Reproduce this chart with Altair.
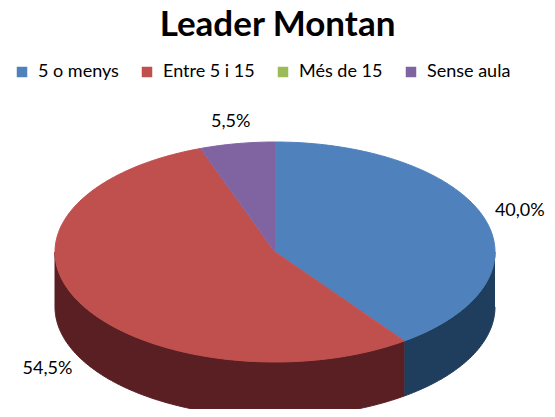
import numpy as np
import pandas as pd
import altair as alt

# ---- data ----
categories = ["5 o menys", "Entre 5 i 15", "Més de 15", "Sense aula"]
values = [40.0, 54.5, 0.0, 5.5]
top_colors = ["#4F81BD", "#C0504D", "#9BBB59", "#8064A2"]
side_colors = ["#1F3D5C", "#5A1F23", "#3E4F22", "#33284A"]
title_text = "Leader Montan"

# ---- layout constants (pixels of the plot area) ----
W, H, PT = 539, 301, 100
CX, CY, RX, RY, DEPTH = 267, 144, 220, 110, 55


def ell(theta_deg, dy=0.0):
    t = np.radians(theta_deg)
    return CX + RX * np.sin(t), CY - RY * np.cos(t) + dy


top_rows, side_rows, label_rows = [], [], []
start = 0.0
for cat, v in zip(categories, values):
    a1, a2 = start, start + v / 100.0 * 360.0
    start = a2
    if v <= 0:
        continue
    n = max(2, int(a2 - a1) + 1)
    angs = np.linspace(a1, a2, n)
    top_rows.append({"cat": cat, "i": 0, "x": CX, "y": CY})
    for k, a in enumerate(angs):
        x, y = ell(a)
        top_rows.append({"cat": cat, "i": k + 1, "x": x, "y": y})
    lo, hi = max(a1, 90.0), min(a2, 270.0)
    if lo < hi:
        m = max(2, int(hi - lo) + 1)
        sa = np.linspace(lo, hi, m)
        k = 0
        for a in sa:
            x, y = ell(a)
            side_rows.append({"piece": cat, "i": k, "x": x, "y": y}); k += 1
        for a in sa[::-1]:
            x, y = ell(a, DEPTH)
            side_rows.append({"piece": cat, "i": k, "x": x, "y": y}); k += 1
    mid = (a1 + a2) / 2.0
    t = np.radians(mid)
    lx = CX + 1.17 * RX * np.sin(t)
    ly = CY - 1.2 * RY * np.cos(t) + (DEPTH if np.cos(t) < 0 else 0)
    label_rows.append({"x": lx, "y": ly, "text": f"{v:.1f}".replace(".", ",") + "%"})

top_df = pd.DataFrame(top_rows)
side_df = pd.DataFrame(side_rows)
label_df = pd.DataFrame(label_rows)

xenc = alt.X("x:Q", scale=alt.Scale(domain=[0, W], nice=False, zero=False), axis=None)
yenc = alt.Y("y:Q", scale=alt.Scale(domain=[0, H], nice=False, zero=False, reverse=True), axis=None)

side_scale = alt.Scale(domain=categories, range=side_colors)
top_scale = alt.Scale(domain=categories, range=top_colors)

sides = alt.Chart(side_df).mark_line(strokeWidth=1, clip=False).encode(
    x=xenc, y=yenc, order="i:Q",
    fill=alt.Fill("piece:N", scale=side_scale, legend=None),
    stroke=alt.Stroke("piece:N", scale=side_scale, legend=None),
)

tops = alt.Chart(top_df).mark_line(strokeWidth=1, clip=False).encode(
    x=xenc, y=yenc, order="i:Q",
    fill=alt.Fill("cat:N", scale=top_scale, legend=alt.Legend(
        title=None, orient="none", legendX=5, legendY=-45, direction="horizontal",
        symbolType="square", symbolSize=110, symbolStrokeWidth=0,
        labelFont="Lato", labelFontSize=18, labelColor="#000000",
        labelOffset=7, columnPadding=19)),
    stroke=alt.Stroke("cat:N", scale=top_scale, legend=None),
)

labels = alt.Chart(label_df).mark_text(font="Lato", fontSize=18, color="#000000",
                                       align="center", baseline="middle").encode(
    x=xenc, y=yenc, text="text:N")

chart = alt.layer(sides, tops, labels).resolve_scale(
    fill="independent", stroke="independent"
).properties(
    width=W, height=H,
    background="#ffffff",
    title=alt.TitleParams(title_text, font="Lato", fontSize=35, fontWeight="bold",
                          anchor="middle", color="#000000", offset=20),
    autosize=alt.AutoSizeParams(type="none"),
    padding={"top": PT, "left": 0, "right": 0, "bottom": 0},
).configure_view(stroke="transparent", strokeWidth=0)

chart.save("out.html", embed_options={"renderer": "svg", "actions": False})
